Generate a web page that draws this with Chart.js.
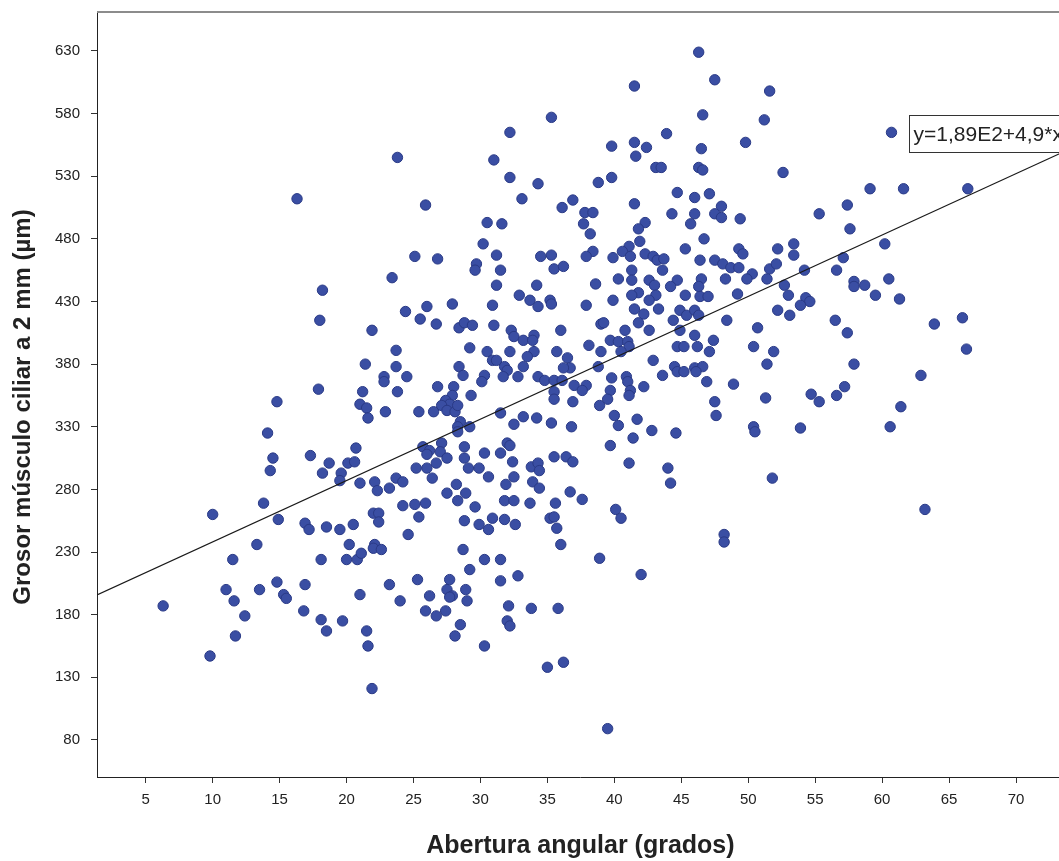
<!DOCTYPE html>
<html>
<head>
<meta charset="utf-8">
<script src="https://cdn.jsdelivr.net/npm/chart.js@4/dist/chart.umd.min.js"></script>
<style>
  html, body { margin: 0; padding: 0; background: #ffffff; overflow: hidden; }
  #wrap { width: 1070px; height: 861px; }
</style>
</head>
<body>
<div id="wrap"><canvas id="grafico" width="1070" height="861"></canvas></div>
<script>
// Abertura angular (grados) de cada ojo
const angulo = [
  16.3,
  23.8,32.2,35.3,31.0,32.2,34.3,33.1,36.9,36.1,25.9,30.5,31.6,30.2,25.1,26.8,31.2,29.7,29.6,31.5,34.5,35.3,35.5,36.2,23.4,
  46.3,47.5,41.5,51.6,46.6,51.2,43.9,49.8,39.8,41.5,42.4,41.6,46.5,43.1,43.5,46.3,46.6,52.6,38.8,39.8,44.7,46.0,47.1,41.5,
  37.8,38.4,37.7,38.2,44.3,46.0,45.7,48.0,47.5,48.0,49.4,42.3,41.8,41.9,46.7,41.1,40.6,38.4,37.9,39.9,41.2,42.3,42.9,43.2,
  43.7,43.6,41.3,45.3,46.4,47.5,48.1,48.7,49.3,49.3,49.6,50.3,52.2,53.4,53.4,51.6,52.1,
  38.6,40.3,41.3,42.6,44.7,46.5,48.3,49.9,51.4,
  60.7,59.1,61.6,66.4,57.4,55.3,57.6,60.2,57.1,54.2,56.6,
  18.2,18.0,17.9,14.8,14.1,14.5,14.3,17.3,18.7,18.2,19.6,19.5,20.1,20.6,20.7,21.0,21.0,
  31.2,34.2,32.9,33.7,34.3,35.2,35.3,30.9,27.9,26.0,24.4,25.5,26.7,21.9,28.4,28.8,29.4,31.0,32.3,32.5,33.2,34.0,33.9,36.0,
  29.2,23.7,30.5,32.2,34.0,33.5,35.7,36.5,36.7,36.2,30.9,31.2,31.8,32.0,33.2,31.7,32.8,34.3,34.8,35.5,36.1,37.0,
  28.4,28.7,30.3,30.1,21.4,23.7,22.8,22.8,24.5,23.8,21.2,21.5,21.6,22.9,25.4,26.5,26.8,28.0,27.9,27.4,27.7,27.1,27.5,28.1,
  28.3,29.3,28.5,28.3,29.2,28.3,31.5,32.5,33.2,34.2,35.3,36.8,35.5,35.5,36.9,
  25.7,26.2,26.0,27.1,27.0,27.5,26.7,25.2,26.0,26.4,22.1,22.3,23.7,24.2,23.2,28.8,28.8,29.1,30.3,29.9,30.6,31.5,32.0,32.2,
  32.4,32.5,31.9,33.8,34.3,34.4,35.5,36.4,36.9,33.9,34.4,36.7,27.5,28.2,28.9,
  41.8,41.3,43.0,43.1,42.6,44.2,45.3,46.3,46.4,47.0,49.2,52.7,53.0,52.2,53.1,37.9,39.9,41.5,42.2,41.8,42.6,43.3,44.4,44.9,
  45.4,46.0,46.3,44.9,48.4,39.0,39.2,40.8,39.7,40.3,41.0,41.1,40.5,38.1,39.0,46.0,44.7,45.2,46.2,47.4,47.1,50.7,50.4,51.9,
  51.4,42.9,38.8,44.5,44.7,45.2,46.0,46.6,46.1,43.6,39.8,40.9,41.0,46.9,48.9,42.2,37.9,37.6,39.7,41.2,41.1,39.5,38.9,40.0,
  40.3,41.7,42.8,44.6,47.5,47.6,51.3,50.4,50.5,41.4,39.7,41.1,44.0,44.2,51.8,
  57.9,57.9,58.7,60.5,59.5,61.3,54.3,54.6,53.9,56.5,57.4,63.9,66.0,66.3,57.9,62.9,57.2,54.7,55.3,56.6,61.4,53.9,60.6,
  13.8,10.0,14.9,16.9,17.2,18.5,19.5,20.5,20.2,13.3,11.5,18.1,20.0,20.8,14.8,16.9,11.0,13.5,15.3,15.5,11.6,6.3,12.4,16.8,
  18.1,19.7,18.5,11.7,9.8,
  24.2,25.1,25.9,28.3,29.6,31.8,32.5,33.7,35.6,22.0,22.4,22.4,25.4,24.6,28.8,29.9,30.6,30.9,31.8,32.6,35.2,35.5,35.7,36.0,
  22.1,22.0,22.6,21.1,28.7,30.3,31.5,29.2,32.8,31.5,23.2,25.3,27.7,27.5,27.9,27.7,28.9,29.0,26.2,24.0,21.0,25.9,26.7,27.4,
  28.5,28.1,30.3,32.1,32.0,32.2,33.8,35.8,21.5,21.6,21.9,35.0,36.2,
  37.6,40.1,40.5,48.2,48.2,38.9,42.0,39.5,
  63.2
];

// Grosor del músculo ciliar a 2 mm (µm), en el mismo orden
const grosor = [
  512,
  545,565,577,543,529,524,512,511,505,507,493,492,476,466,464,467,460,455,455,466,467,456,458,449,
  629,607,602,598,579,575,564,557,554,557,553,546,552,537,537,537,535,533,525,529,517,513,516,508,
  501,501,492,484,500,500,492,506,500,497,496,493,488,478,480,474,470,470,466,465,466,468,466,463,
  464,455,455,472,463,463,460,457,457,472,468,452,472,476,467,456,460,
  444,448,447,447,447,448,448,448,448,
  565,520,520,520,507,500,488,476,465,455,455,
  439,415,360,350,325,305,295,307,301,293,293,287,301,302,313,348,285,
  443,443,435,431,426,431,428,427,428,426,422,416,412,407,409,413,411,411,407,402,399,403,399,407,
  393,391,390,390,390,386,390,385,377,377,383,383,378,375,378,370,370,370,367,367,367,363,
  378,371,371,366,380,378,370,366,370,358,358,345,337,342,342,342,362,362,355,351,348,347,343,342,
  347,355,334,330,330,326,341,332,338,337,333,330,358,352,350,
  314,311,308,317,310,305,301,297,297,289,286,279,289,286,281,314,305,297,309,297,290,309,317,315,
  302,290,284,298,301,295,306,306,302,286,281,278,277,284,277,
  437,435,443,435,431,442,435,442,434,434,436,443,435,423,419,427,431,424,420,413,407,424,415,423,
  419,423,419,407,415,412,413,407,399,398,398,394,390,395,390,403,394,394,394,399,390,409,394,390,
  380,383,378,378,374,374,377,378,374,371,369,370,366,366,364,362,363,359,359,359,355,352,347,339,
  331,336,327,325,350,339,353,330,326,321,315,301,297,285,289,
  446,442,443,448,435,432,433,430,427,415,405,412,417,392,380,371,362,356,350,355,346,329,330,
  269,260,256,253,248,250,248,252,236,236,224,224,224,224,206,204,200,200,196,193,191,187,179,183,
  176,175,167,163,147,
  267,268,269,271,266,271,271,269,269,261,261,254,258,244,255,252,248,257,256,252,257,258,249,236,
  236,233,232,229,232,224,224,216,211,207,204,208,208,200,195,194,200,191,195,191,196,183,179,183,
  172,163,155,187,175,171,185,185,167,155,121,138,142,
  272,264,257,244,238,225,212,89,
  264
];

const marcasX = [5, 10, 15, 20, 25, 30, 35, 40, 45, 50, 55, 60, 65, 70];
const marcasY = [80, 130, 180, 230, 280, 330, 380, 430, 480, 530, 580, 630];

// Recta de ajuste lineal: y = 1,89E2 + 4,9*x
const intercepto = 189;
const pendiente = 4.9;
const textoAjuste = 'y=1,89E2+4,9*x';
const posEtiqueta = { x: 62.0, y: 579 };

const tituloY = 'Grosor músculo ciliar a 2 mm (µm)';
const tituloX = 'Abertura angular (grados)';

const rangoX = { min: 1.36, max: 73.57 };
const rangoY = { min: 50.4, max: 661.1 };

const fuente = "'Liberation Sans', Arial, sans-serif";

const puntos = angulo.map((a, i) => ({ x: a, y: grosor[i] }));
const recta = [rangoX.min, rangoX.max].map(a => ({ x: a, y: intercepto + pendiente * a }));

const marcoYEtiqueta = {
  id: 'marcoYEtiqueta',
  afterDraw(chart) {
    const { ctx, chartArea, scales } = chart;
    ctx.save();
    // borde superior del área de trazado
    ctx.strokeStyle = '#8c8c8c';
    ctx.lineWidth = 2;
    ctx.beginPath();
    ctx.moveTo(chartArea.left, chartArea.top);
    ctx.lineTo(chartArea.right, chartArea.top);
    ctx.stroke();

    // título del eje vertical
    ctx.save();
    ctx.translate(23, 407);
    ctx.rotate(-Math.PI / 2);
    ctx.font = 'bold 24px ' + fuente;
    ctx.fillStyle = '#222222';
    ctx.textAlign = 'center';
    ctx.textBaseline = 'middle';
    ctx.fillText(tituloY, 0, 0);
    ctx.restore();

    // etiqueta de la ecuación de la recta
    const px = Math.round(scales.x.getPixelForValue(posEtiqueta.x)) + 0.5;
    const py = Math.round(scales.y.getPixelForValue(posEtiqueta.y)) + 0.5;
    ctx.font = '21px ' + fuente;
    const w = ctx.measureText(textoAjuste).width + 8;
    const h = 37;
    ctx.fillStyle = '#ffffff';
    ctx.fillRect(px, py, w, h);
    ctx.strokeStyle = '#333333';
    ctx.lineWidth = 1;
    ctx.strokeRect(px, py, w, h);
    ctx.fillStyle = '#222222';
    ctx.textBaseline = 'middle';
    ctx.textAlign = 'left';
    ctx.fillText(textoAjuste, px + 4, py + h / 2 + 1);
    ctx.restore();
  }
};

new Chart(document.getElementById('grafico'), {
  type: 'scatter',
  data: {
    datasets: [
      {
        type: 'line',
        data: recta,
        borderColor: '#1a1a1a',
        borderWidth: 1.2,
        pointRadius: 0,
        fill: false,
        order: 0
      },
      {
        data: puntos,
        backgroundColor: '#3a4ea3',
        borderColor: '#2a3a86',
        borderWidth: 1,
        pointRadius: 5.2,
        order: 1
      }
    ]
  },
  options: {
    responsive: false,
    animation: false,
    devicePixelRatio: 1,
    layout: { padding: { top: 12, left: 0, right: 1, bottom: 0 } },
    plugins: { legend: { display: false }, tooltip: { enabled: false } },
    scales: {
      x: {
        type: 'linear',
        min: rangoX.min,
        max: rangoX.max,
        afterBuildTicks: s => { s.ticks = marcasX.map(v => ({ value: v })); },
        afterFit: s => { s.height = 84; s.paddingLeft = 0; s.paddingRight = 0; },
        grid: { drawOnChartArea: false, drawTicks: true, tickLength: 6, tickColor: '#333333' },
        border: { display: true, color: '#222222', width: 1 },
        ticks: { color: '#222222', font: { family: fuente, size: 15 }, padding: 8, maxRotation: 0, autoSkip: false },
        title: {
          display: true,
          text: tituloX,
          color: '#222222',
          font: { family: fuente, size: 25, weight: 'bold' },
          padding: 0
        }
      },
      y: {
        type: 'linear',
        min: rangoY.min,
        max: rangoY.max,
        afterBuildTicks: s => { s.ticks = marcasY.map(v => ({ value: v })); },
        afterFit: s => { s.width = 97; s.paddingTop = 0; s.paddingBottom = 0; },
        grid: { drawOnChartArea: false, drawTicks: true, tickLength: 6, tickColor: '#333333' },
        border: { display: true, color: '#222222', width: 1 },
        ticks: { color: '#222222', font: { family: fuente, size: 15 }, padding: 11, autoSkip: false },
        title: { display: false }
      }
    }
  },
  plugins: [marcoYEtiqueta]
});
</script>
</body>
</html>
